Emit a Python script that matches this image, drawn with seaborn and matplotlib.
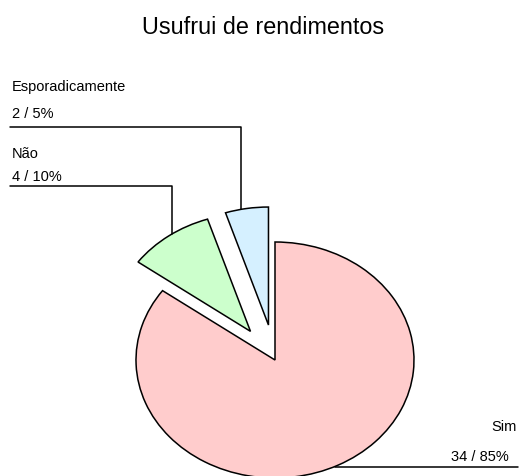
import numpy as np
import matplotlib
matplotlib.use("Agg")
import matplotlib.pyplot as plt
import seaborn as sns

sns.set_theme(style="white")
plt.rcParams['font.family'] = ['Liberation Sans', 'DejaVu Sans']
plt.rcParams['text.color'] = 'black'

# data
labels = ["Sim", "Não", "Esporadicamente"]
counts = [34, 4, 2]
percents = [85, 10, 5]
colors = ["#FFCCCC", "#CCFFCC", "#D5F0FF"]
explode = [0.0, 0.3, 0.3]

W, H = 520, 477
fig = plt.figure(figsize=(W / 100, H / 100), dpi=100)
ax = fig.add_axes([0, 0, 1, 1])

# pie centre / radii in pixels (pie is drawn slightly squashed)
cx, cy, rx, ry = 275, 361, 139, 118

def X(p):
    return (p - cx) / rx

def Y(q):
    return (cy - q) / ry

wedges, _ = ax.pie(counts, colors=colors, explode=explode, startangle=90,
                   counterclock=False,
                   wedgeprops=dict(edgecolor="black", linewidth=1.1))
ax.set_aspect("auto")
ax.set_xlim(X(0), X(W))
ax.set_ylim(Y(H), Y(0))
ax.axis("off")

fig.text(263 / W, 1 - 34 / H, "Usufrui de rendimentos", fontsize=16.8,
         ha="center", va="baseline", color="black")

def arc_y(w, xd, e):
    mid = np.deg2rad((w.theta1 + w.theta2) / 2)
    ox, oy = e * np.cos(mid), e * np.sin(mid)
    return oy + np.sqrt(1 - (xd - ox) ** 2)

# left labels with elbow leader lines
left = [(2, 91, 118, 128, 241), (1, 158, 181, 187, 172)]
for i, yname, yval, yline, xv in left:
    fig.text(12 / W, 1 - yname / H, labels[i], fontsize=10.5, va="baseline")
    fig.text(12 / W, 1 - yval / H, f"{counts[i]} / {percents[i]}%",
             fontsize=10.5, va="baseline")
    yend = arc_y(wedges[i], X(xv), explode[i])
    ax.plot([X(10), X(xv), X(xv)], [Y(yline), Y(yline), yend],
            color="black", lw=1.1, clip_on=False)

# Sim label on the right
fig.text(517 / W, 1 - 431 / H, labels[0], fontsize=10.5, ha="right",
         va="baseline")
fig.text(509 / W, 1 - 461 / H, f"{counts[0]} / {percents[0]}%", fontsize=10.5,
         ha="right", va="baseline")
yl = Y(467.5)
xs = np.sqrt(1 - yl ** 2)
ax.plot([xs, X(518)], [yl, yl], color="black", lw=1.1, clip_on=False)

fig.savefig("out.png", dpi=100)
